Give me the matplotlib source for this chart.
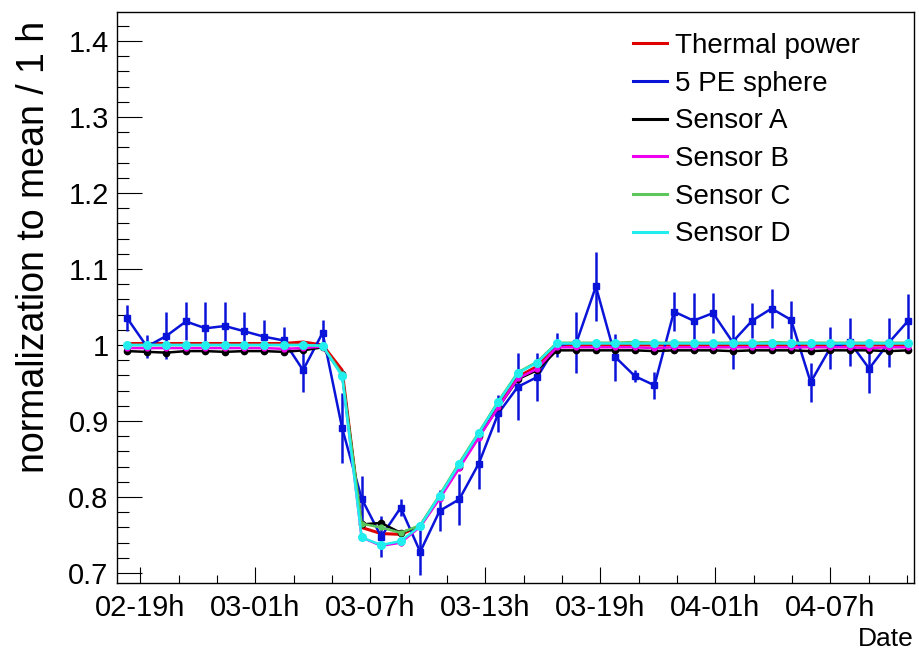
import numpy as np
import matplotlib
matplotlib.use('Agg')
import matplotlib.pyplot as plt

plt.rcParams['font.family'] = ['Liberation Sans', 'DejaVu Sans']

# hourly bins, hours counted from day 02 00h
hours = 18.32 + 1.0185 * np.arange(41)

xtick_hours = [19, 25, 31, 37, 43, 49, 55]
xtick_labels = ['02-19h', '03-01h', '03-07h', '03-13h', '03-19h', '04-01h', '04-07h']

thermal = [1.002, 1.002, 1.002, 1.002, 1.002, 1.002, 1.002, 1.002, 1.002, 1.004, 1.000,
           0.967, 0.760, 0.752, 0.751, 0.762, 0.800, 0.840, 0.880, 0.920, 0.958, 0.972,
           1.000, 1.000, 1.000, 1.000, 1.000, 1.000, 1.000, 1.000, 1.000, 1.000, 1.000,
           1.000, 1.000, 1.000, 1.000, 1.000, 1.000, 1.000, 1.000]

pe_sphere = [1.035, 0.998, 1.012, 1.031, 1.022, 1.025, 1.018, 1.011, 1.006, 0.967, 1.016,
             0.891, 0.798, 0.748, 0.786, 0.728, 0.782, 0.797, 0.844, 0.910, 0.945, 0.958,
             1.000, 1.003, 1.077, 0.984, 0.959, 0.947, 1.044, 1.032, 1.042, 1.004, 1.032,
             1.048, 1.033, 0.951, 0.996, 1.004, 0.969, 1.003, 1.032]
pe_err = [0.017, 0.015, 0.031, 0.025, 0.034, 0.032, 0.025, 0.022, 0.018, 0.029, 0.017,
          0.046, 0.030, 0.027, 0.011, 0.031, 0.027, 0.034, 0.034, 0.024, 0.044, 0.032,
          0.016, 0.040, 0.045, 0.031, 0.008, 0.018, 0.026, 0.036, 0.026, 0.035, 0.023,
          0.026, 0.025, 0.026, 0.028, 0.031, 0.032, 0.032, 0.035]

sensor_a = [0.992, 0.991, 0.990, 0.992, 0.992, 0.991, 0.992, 0.992, 0.991, 0.993, 0.997,
            0.962, 0.764, 0.766, 0.753, 0.762, 0.800, 0.840, 0.880, 0.918, 0.955, 0.967,
            0.993, 0.993, 0.993, 0.993, 0.993, 0.992, 0.993, 0.993, 0.993, 0.992, 0.993,
            0.993, 0.993, 0.992, 0.993, 0.993, 0.993, 0.992, 0.993]
sensor_b = [0.996, 0.996, 0.996, 0.996, 0.996, 0.996, 0.996, 0.996, 0.995, 0.996, 0.998,
            0.962, 0.747, 0.736, 0.740, 0.761, 0.798, 0.838, 0.878, 0.918, 0.956, 0.969,
            0.997, 0.997, 0.997, 0.997, 0.997, 0.996, 0.997, 0.997, 0.997, 0.997, 0.997,
            0.997, 0.997, 0.997, 0.997, 0.997, 0.996, 0.997, 0.997]
sensor_c = [1.000, 1.000, 1.000, 1.000, 1.000, 1.000, 1.000, 1.000, 1.000, 1.000, 0.999,
            0.962, 0.765, 0.760, 0.753, 0.763, 0.803, 0.845, 0.885, 0.926, 0.964, 0.978,
            1.003, 1.003, 1.003, 1.003, 1.004, 1.003, 1.003, 1.003, 1.003, 1.003, 1.003,
            1.004, 1.003, 1.003, 1.003, 1.003, 1.003, 1.003, 1.003]
sensor_d = [1.000, 1.000, 1.000, 1.000, 1.000, 1.000, 1.000, 1.000, 1.000, 1.000, 0.999,
            0.959, 0.747, 0.737, 0.742, 0.762, 0.802, 0.843, 0.884, 0.925, 0.963, 0.977,
            1.002, 1.002, 1.002, 1.002, 1.002, 1.002, 1.002, 1.002, 1.002, 1.002, 1.002,
            1.002, 1.002, 1.002, 1.002, 1.002, 1.002, 1.002, 1.002]

colors = {'Thermal power': '#e00000', '5 PE sphere': '#0a14d8', 'Sensor A': 'black',
          'Sensor B': '#ee00ee', 'Sensor C': '#5cc85c', 'Sensor D': '#22eeee'}

fig = plt.figure(figsize=(9.19, 6.54), dpi=100)
ax = fig.add_axes([117 / 919, 71 / 654, 797 / 919, 571 / 654])

ax.plot(hours, thermal, color=colors['Thermal power'], lw=2.2, zorder=2)
ax.errorbar(hours, pe_sphere, yerr=pe_err, color=colors['5 PE sphere'], lw=1.8,
            elinewidth=1.8, capsize=0, marker='s', ms=5, zorder=3)
ax.plot(hours, sensor_a, color=colors['Sensor A'], lw=1.8, marker='o', ms=4.5, zorder=4)
ax.plot(hours, sensor_b, color=colors['Sensor B'], lw=1.8, marker='o', ms=3.5, zorder=5)
ax.plot(hours, sensor_c, color=colors['Sensor C'], lw=1.8, marker='o', ms=3.5, zorder=6)
ax.plot(hours, sensor_d, color=colors['Sensor D'], lw=1.8, marker='o', ms=5.5, zorder=7)

ax.set_xticks(xtick_hours)
ax.set_xticklabels(xtick_labels)
ax.set_xticks(np.arange(17, 60, 2), minor=True)
ax.set_yticks([0.7, 0.8, 0.9, 1.0, 1.1, 1.2, 1.3, 1.4])
ax.set_yticklabels(['0.7', '0.8', '0.9', '1', '1.1', '1.2', '1.3', '1.4'])
ax.set_yticks(np.arange(0.70, 1.44, 0.02), minor=True)
# limits after the ticks, set_xticks would widen them
ax.set_xlim(17.78, 59.36)
ax.set_ylim(0.687, 1.438)

ax.tick_params(axis='both', which='both', direction='in', width=0.8, labelsize=21)
ax.tick_params(axis='x', which='major', length=11.5, pad=8)
ax.tick_params(axis='x', which='minor', length=5.8)
ax.tick_params(axis='y', which='major', length=18, pad=6)
ax.tick_params(axis='y', which='minor', length=8.6)
for s in ax.spines.values():
    s.set_linewidth(1.0)

ax.set_ylabel('normalization to mean / 1 h', fontsize=27, loc='top')
ax.yaxis.set_label_coords(-0.082, 0.985)
ax.set_xlabel('Date', fontsize=19, loc='right')
ax.xaxis.set_label_coords(1.0, -0.077)

lines = [plt.Line2D([], [], color=c, lw=2.2) for c in colors.values()]
ax.legend(lines, list(colors.keys()), loc='upper left', bbox_to_anchor=(0.647, 0.963),
          frameon=False, fontsize=20, handlelength=1.22, handletextpad=0.32,
          labelspacing=0.42, borderpad=0, borderaxespad=0)

fig.savefig('out.png', dpi=100)
